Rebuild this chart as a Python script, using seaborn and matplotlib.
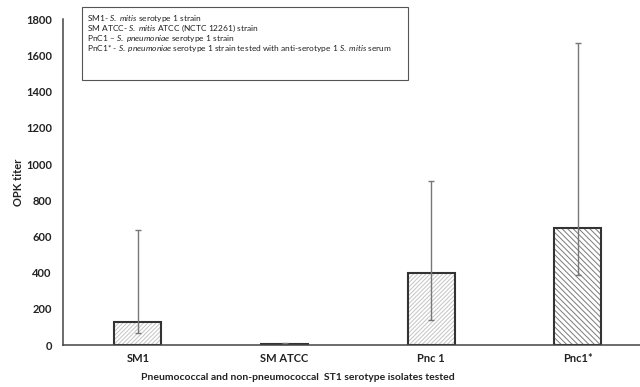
import numpy as np
import pandas as pd
import matplotlib
matplotlib.use('Agg')
import matplotlib.pyplot as plt
import seaborn as sns
from matplotlib.patches import Rectangle

# values
isolates = ['SM1', 'SM ATCC', 'Pnc 1', 'Pnc1*']
opk_mean = [129, 7, 396, 645]
err_low = [64, 4, 138, 387]
err_high = [636, 9, 908, 1669]

legend_lines = [
    r'SM1- $\it{S.\ mitis}$ serotype 1 strain',
    r'SM ATCC- $\it{S.\ mitis}$ ATCC (NCTC 12261) strain',
    r'PnC1 – $\it{S.\ pneumoniae}$ serotype 1 strain',
    r'PnC1* - $\it{S.\ pneumoniae}$ serotype 1 strain tested with anti-serotype 1 $\it{S.\ mitis}$ serum',
]

sns.set_style('white')
plt.rcParams['font.family'] = ['Lato', 'DejaVu Sans']
plt.rcParams['mathtext.fontset'] = 'custom'
plt.rcParams['mathtext.rm'] = 'Lato'
plt.rcParams['mathtext.it'] = 'Lato:italic'
plt.rcParams['hatch.linewidth'] = 0.7

df = pd.DataFrame({'isolate': isolates, 'titer': opk_mean})

fig = plt.figure(figsize=(6.4, 3.87), dpi=100)
ax = fig.add_axes([63/640, 42/387, 1 - 63/640, (345 - 19.3)/387])

sns.barplot(data=df, x='isolate', y='titer', ax=ax, width=0.32,
            color='white', linewidth=0)

# hatch takes the edge colour, so the dark outline is drawn on top separately
hatches = ['////////', '////////', '////////', '\\\\\\\\\\\\']
hcolors = ['#c4c4c4', '#c4c4c4', '#c4c4c4', '#7a7a7a']
for patch, h, hc in zip(list(ax.patches), hatches, hcolors):
    patch.set_hatch(h)
    patch.set_edgecolor(hc)
    patch.set_linewidth(0)
    ax.add_patch(Rectangle(patch.get_xy(), patch.get_width(), patch.get_height(),
                           fill=False, edgecolor='#333333', linewidth=1.5, zorder=3))

lower = np.array(opk_mean) - np.array(err_low)
upper = np.array(err_high) - np.array(opk_mean)
ax.errorbar(np.arange(len(isolates)), opk_mean, yerr=[lower, upper],
            fmt='none', ecolor='#777777', elinewidth=1.0, capsize=2.5,
            capthick=1.0, zorder=4)

ax.set_ylim(0, 1800)
ax.set_yticks(range(0, 1801, 200))
ax.set_xlim(-0.511, 3.423)
sns.despine(ax=ax, top=True, right=True)
for s in ['left', 'bottom']:
    ax.spines[s].set_color('#444444')
    ax.spines[s].set_linewidth(1.1)
    ax.spines[s].set_zorder(5)
ax.tick_params(axis='both', length=0, labelsize=8, colors='#222222')
ax.tick_params(axis='x', pad=6)
ax.tick_params(axis='y', pad=8)
for lab in ax.get_xticklabels() + ax.get_yticklabels():
    lab.set_fontweight('bold')

ax.set_ylabel('OPK titer', fontsize=8, fontweight='bold', color='#222222')
ax.yaxis.set_label_coords(-0.068, 0.5)
ax.set_xlabel('Pneumococcal and non-pneumococcal  ST1 serotype isolates tested',
              fontsize=7.5, fontweight='bold', color='#222222')
ax.xaxis.set_label_coords(0.407, -0.085)

# legend box
fig.patches.append(Rectangle((82/640, 1 - 80/387), (408 - 82)/640, (80 - 7)/387,
                             transform=fig.transFigure, fill=False,
                             edgecolor='#555555', linewidth=0.8))
for i, line in enumerate(legend_lines):
    fig.text(87/640, 1 - (18 + 10*i)/387, line, fontsize=6, va='center',
             ha='left', color='#222222')

plt.savefig('out.png', dpi=100)
